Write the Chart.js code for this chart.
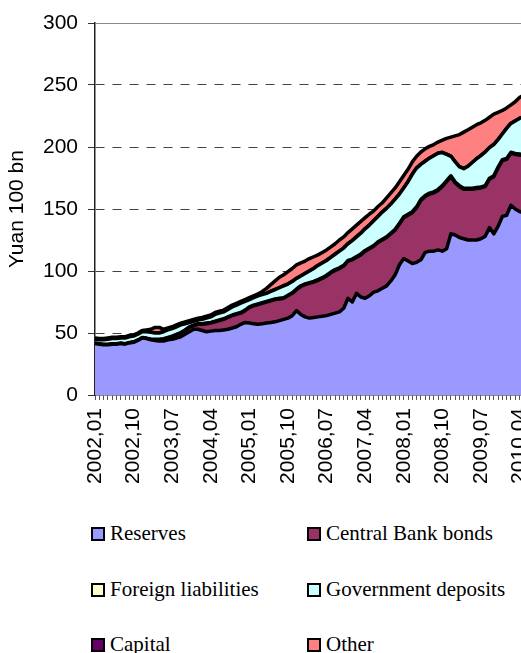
<!DOCTYPE html>
<html><head><meta charset="utf-8">
<script src="https://cdn.jsdelivr.net/npm/chart.js@4.4.1/dist/chart.umd.min.js"></script>
<style>
html,body{margin:0;padding:0;background:#fff;width:521px;height:653px;overflow:hidden;}
#wrap{position:relative;width:521px;height:653px;overflow:hidden;}
#c{position:absolute;left:0;top:0;}
.lg{position:absolute;font-family:"Liberation Serif","Times New Roman",serif;font-size:21px;color:#000;white-space:nowrap;line-height:21px;height:21px;}
.lg i{position:absolute;left:0;top:4px;width:10px;height:10px;border:2px solid #000;}
.lg span{position:absolute;left:19px;top:0;}
</style></head>
<body>
<div id="wrap">
<canvas id="c" width="557" height="500"></canvas>
<div class="lg" style="left:91px;top:523px"><i style="background:#9999FF"></i><span>Reserves</span></div>
<div class="lg" style="left:307px;top:523px"><i style="background:#993366"></i><span>Central Bank bonds</span></div>
<div class="lg" style="left:91px;top:579px"><i style="background:#FFFFCC"></i><span>Foreign liabilities</span></div>
<div class="lg" style="left:307px;top:579px"><i style="background:#CCFFFF"></i><span>Government deposits</span></div>
<div class="lg" style="left:91px;top:634px"><i style="background:#660066"></i><span>Capital</span></div>
<div class="lg" style="left:307px;top:634px"><i style="background:#FF8080"></i><span>Other</span></div>
</div>
<script>
// Categories: monthly, 2002,01 .. 2010,05
const startYear = 2002, startMonth = 1, nMonths = 101, labelEvery = 9;
const months = [];
for (let k = 0; k < nMonths; k++) {
  const m = startMonth - 1 + k;
  const yy = startYear + Math.floor(m / 12);
  const mm = (m % 12) + 1;
  months.push(yy + ',' + (mm < 10 ? '0' + mm : '' + mm));
}
const seriesNames = ['Reserves','Central Bank bonds','Foreign liabilities','Government deposits','Capital','Other'];
const seriesColors = ['#9999FF','#993366','#FFFFCC','#CCFFFF','#660066','#FF8080'];

// Values in Yuan 100 bn
const reserves = [41.5,41,40.5,40.5,41,41,41.5,41,42,42.5,44,46,
  45.5,44.5,44,43.5,43.5,44.5,45,46,47,49,51,53,
  53,52,51,51.5,52,52,52.5,53,54,55,57,58.5,
  58,57.5,57,57.5,58,58.5,59,60,61,62,64,68,
  65,63,62,62.5,63,63.5,64,65,66,67,70,78,
  75,82,79,78,80,83,84,86,88,92,97,105,
  110,108,106,107,109,115,116,116,117,116,118,130,
  129,127,126,125,125,125,126,128,135,130,136,144,
  145,153,150,148,147];
const cbBonds = [0,0,0,0,0,0,0,0,0,0,0,0,
  0,0.2,0.5,1,1.5,1.5,2,2.5,3,3,3.5,3,
  4,5,6.5,6.5,7,8,8.5,9.5,10,10,9,9.5,
  12.5,14.5,16,16.5,17,17.5,18,17.5,17,18,18,17,
  22.5,26,28,28.5,29.5,30.5,32,33.5,34.5,35,34,30,
  34,29,34,38,38,37,39,39,39,38,36,33,
  33,37,41,44,48,45,46,47,48,52,54,46,
  42,41,40,41,41,41.5,41,40,39,46,47,45,
  45,42,44,45.5,46];
const foreignLiab = [0.4,0.4,0.4,0.4,0.4,0.4,0.4,0.4,0.4,0.4,0.4,0.4,
  0.4,0.4,0.4,0.4,0.4,0.4,0.4,0.4,0.4,0.4,0.4,0.4,
  0.5,0.5,0.5,0.5,0.5,0.5,0.5,0.5,0.5,0.5,0.5,0.5,
  0.5,0.5,0.5,0.5,0.5,0.5,0.5,0.5,0.5,0.5,0.5,0.5,
  0.6,0.6,0.6,0.6,0.6,0.6,0.6,0.6,0.6,0.6,0.6,0.6,
  0.6,0.6,0.6,0.6,0.6,0.6,0.6,0.6,0.6,0.6,0.6,0.6,
  0.8,0.8,0.8,0.8,0.8,0.8,0.8,0.8,0.8,0.8,0.8,0.8,
  0.8,0.8,0.8,0.8,0.8,0.8,0.8,0.8,0.8,0.8,0.8,0.8,
  0.8,0.8,0.8,0.8,0.8];
const govDeposits = [3.1,3.1,3.6,4.1,4.1,4.1,4.1,4.6,4.6,4.6,4.6,4.6,
  5.1,5.4,5.1,5.1,5.6,6.1,6.1,6.1,6.1,5.1,3.6,3.1,
  3.0,3.5,4.0,4.5,5.5,5.5,5.5,6.0,6.5,7.0,7.5,7.0,
  6.0,6.0,6.5,6.5,6.5,7.0,7.5,8.5,9.5,9.0,9.0,8.5,
  7.9,8.4,9.4,10.4,11.4,11.9,11.9,11.9,12.4,13.4,13.9,13.4,
  14.9,15.9,16.9,17.4,18.4,19.9,20.4,21.9,22.9,23.4,24.4,23.4,
  23.2,26.2,30.2,31.2,28.2,27.7,28.2,29.2,29.2,26.7,21.2,15.7,
  16.2,15.2,15.7,17.7,20.7,23.2,25.2,27.2,24.7,25.2,22.2,20.7,
  24.2,23.2,26.2,28.7,30.7];
const capital = [0.2,0.2,0.2,0.2,0.2,0.2,0.2,0.2,0.2,0.2,0.2,0.2,
  0.2,0.2,0.2,0.2,0.2,0.2,0.2,0.2,0.2,0.2,0.2,0.2,
  0.2,0.2,0.2,0.2,0.2,0.2,0.2,0.2,0.2,0.2,0.2,0.2,
  0.2,0.2,0.2,0.2,0.2,0.2,0.2,0.2,0.2,0.2,0.2,0.2,
  0.2,0.2,0.2,0.2,0.2,0.2,0.2,0.2,0.2,0.2,0.2,0.2,
  0.2,0.2,0.2,0.2,0.2,0.2,0.2,0.2,0.2,0.2,0.2,0.2,
  0.2,0.2,0.2,0.2,0.2,0.2,0.2,0.2,0.2,0.2,0.2,0.2,
  0.2,0.2,0.2,0.2,0.2,0.2,0.2,0.2,0.2,0.2,0.2,0.2,
  0.2,0.2,0.2,0.2,0.2];
const other = [0.8,0.8,0.8,0.8,0.8,0.8,0.8,0.8,0.8,0.8,0.8,0.8,
  1.3,2.3,4.3,4.3,1.8,1.3,1.3,1.3,1.3,1.3,1.3,1.3,
  1.3,1.3,1.3,1.3,1.3,1.3,1.3,1.3,1.3,1.3,1.3,1.3,
  1.3,1.3,1.3,2.3,3.8,5.3,6.8,8.3,8.8,9.8,10.3,10.8,
  10.3,9.8,9.8,9.3,8.3,8.3,8.3,8.3,8.3,8.8,8.8,8.8,
  9.3,9.3,9.3,8.8,8.8,7.8,7.8,7.3,8.3,8.8,8.8,9.8,
  9.8,9.8,9.8,9.3,9.8,9.8,9.3,8.8,8.8,9.8,12.8,15.3,
  20.8,25.8,29.3,29.3,28.3,27.3,26.3,25.3,24.3,24.3,21.8,18.8,
  16.3,14.8,15.3,16.8,17.3];
const yTicks = {min: 0, max: 300, step: 50};
const yTitle = 'Yuan 100 bn';

const seriesData = [reserves, cbBonds, foreignLiab, govDeposits, capital, other];
const tickFont = {family: '"Liberation Sans", Arial, sans-serif', size: 21};

new Chart(document.getElementById('c').getContext('2d'), {
  type: 'line',
  data: {
    labels: months,
    datasets: seriesData.map((d, k) => ({
      label: seriesNames[k],
      data: d,
      backgroundColor: seriesColors[k],
      borderColor: '#000',
      borderWidth: 3.5,
      fill: k === 0 ? 'origin' : '-1',
      pointRadius: 0,
      tension: 0,
      borderJoinStyle: 'round'
    }))
  },
  options: {
    responsive: false,
    animation: false,
    devicePixelRatio: 1,
    layout: {padding: {left: 0, top: 23, right: 22, bottom: 0}},
    plugins: {legend: {display: false}, tooltip: {enabled: false}},
    scales: {
      x: {
        type: 'category',
        offset: false,
        grid: {drawOnChartArea: false, drawTicks: true, tickLength: 5, tickColor: '#555', tickWidth: 1},
        border: {display: true, color: '#222', width: 1.5},
        ticks: {
          autoSkip: false, maxRotation: 90, minRotation: 90, padding: 8, color: '#000', font: tickFont,
          callback: (v, i) => (i % labelEvery === 0 ? months[i] : '')
        },
        afterFit: s => { s.height = 105; }
      },
      y: {
        stacked: true,
        min: yTicks.min, max: yTicks.max,
        ticks: {stepSize: yTicks.step, padding: 10, color: '#000', font: tickFont},
        grid: {
          color: c => (c.tick && c.tick.value === yTicks.min) ? 'rgba(0,0,0,0)' : (c.tick && c.tick.value === yTicks.max ? '#888' : '#444'),
          lineWidth: 1, drawTicks: true, tickLength: 7, tickColor: '#333', tickWidth: 1
        },
        border: {display: true, color: '#222', width: 1.5,
          dash: c => (c.tick && c.tick.value === yTicks.max) ? [] : [9, 8]},
        title: {display: true, text: yTitle, color: '#000', font: tickFont, padding: {top: 5, bottom: 0}},
        afterFit: s => { s.width = 95; }
      }
    }
  }
});
</script>
</body></html>
